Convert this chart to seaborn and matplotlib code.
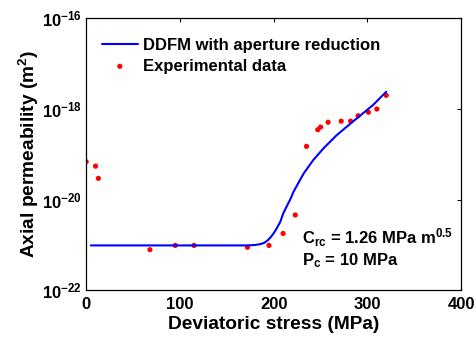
import numpy as np
import pandas as pd
import matplotlib
matplotlib.use("Agg")
import matplotlib.pyplot as plt
import matplotlib.ticker as mticker
import seaborn as sns

# --- data ---
# experimental points: deviatoric stress (MPa), axial permeability (m2)
exp_stress = [0, 10, 13, 68, 95, 115, 172, 195, 210, 223, 235, 247, 250,
              258, 272, 282, 290, 301, 310, 320]
exp_perm = [6.9e-20, 5.5e-20, 2.95e-20, 7.9e-22, 9.8e-22, 9.8e-22, 8.9e-22,
            9.8e-22, 1.8e-21, 4.6e-21, 1.5e-19, 3.5e-19, 4.0e-19, 5.1e-19,
            5.4e-19, 5.4e-19, 7.1e-19, 8.5e-19, 1.0e-18, 2.0e-18]

# DDFM model curve
mod_stress = [5, 170, 180, 186, 190, 194, 197, 200, 203, 207, 210, 214, 218,
              221, 225, 232, 242, 253, 267, 282, 296, 306, 320]
mod_perm = [9.8e-22, 9.8e-22, 1.0e-21, 1.05e-21, 1.12e-21, 1.29e-21,
            1.51e-21, 1.82e-21, 2.29e-21, 3.24e-21, 4.9e-21, 7.2e-21,
            1.05e-20, 1.48e-20, 2.09e-20, 3.8e-20, 7.4e-20, 1.35e-19,
            2.63e-19, 4.8e-19, 8.3e-19, 1.23e-18, 2.4e-18]

sns.set_theme(style="white")
plt.rcParams["font.family"] = ["Liberation Sans", "DejaVu Sans"]
plt.rcParams["font.weight"] = "bold"
plt.rcParams["text.color"] = "black"
plt.rcParams["axes.labelcolor"] = "black"
plt.rcParams["xtick.color"] = "black"
plt.rcParams["ytick.color"] = "black"
plt.rcParams["mathtext.fontset"] = "custom"
plt.rcParams["mathtext.rm"] = "Liberation Sans:bold"
plt.rcParams["mathtext.bf"] = "Liberation Sans:bold"
plt.rcParams["mathtext.it"] = "Liberation Sans:bold"
plt.rcParams["mathtext.default"] = "bf"

df_mod = pd.DataFrame({"stress": mod_stress, "perm": mod_perm})
df_exp = pd.DataFrame({"stress": exp_stress, "perm": exp_perm})

fig = plt.figure(figsize=(4.76, 3.40), dpi=100)
ax = fig.add_axes([0.181, 0.146, 0.788, 0.800])

sns.lineplot(data=df_mod, x="stress", y="perm", ax=ax, color="#0000ff",
             linewidth=1.5, label="DDFM with aperture reduction")
sns.scatterplot(data=df_exp, x="stress", y="perm", ax=ax, color="#ff0000",
                s=14, edgecolor="none", label="Experimental data")

ax.set_yscale("log")
ax.set_xlim(0, 400)
ax.set_ylim(1e-22, 1e-16)
ax.set_xticks([0, 100, 200, 300, 400])
ax.yaxis.set_major_locator(mticker.FixedLocator([1e-22, 1e-20, 1e-18, 1e-16]))
ax.yaxis.set_minor_locator(mticker.NullLocator())
ax.yaxis.set_major_formatter(
    mticker.FuncFormatter(lambda v, p: r"$10^{%d}$" % round(np.log10(v))))

ax.tick_params(axis="both", which="major", direction="in", length=3,
               width=0.75, labelsize=12, top=True, right=True,
               color="black", labelcolor="black", pad=5)
ax.tick_params(axis="y", pad=3)
for lab in ax.get_xticklabels():
    lab.set_fontweight("bold")

for sp in ax.spines.values():
    sp.set_color("black")
    sp.set_linewidth(0.9)

ax.set_xlabel("Deviatoric stress (MPa)", fontsize=13.8, fontweight="bold",
              labelpad=3, color="black")
ax.set_ylabel(r"Axial permeability (m$^{2}$)", fontsize=13.8,
              fontweight="bold", labelpad=1, color="black")

leg = ax.legend(loc="upper left", bbox_to_anchor=(0.042, 0.929),
                frameon=False, fontsize=12, borderpad=0, borderaxespad=0,
                handlelength=2.15, handletextpad=0.3, labelspacing=0.36,
                markerscale=1.0)
for t in leg.get_texts():
    t.set_color("black")

ax.text(0.575, 0.173, r"C$_{rc}$ = 1.26 MPa m$^{0.5}$", transform=ax.transAxes,
        fontsize=12, fontweight="bold", va="baseline", ha="left",
        color="black")
ax.text(0.575, 0.091, r"P$_{c}$ = 10 MPa", transform=ax.transAxes,
        fontsize=12, fontweight="bold", va="baseline", ha="left",
        color="black")

fig.savefig("out.png", dpi=100)
